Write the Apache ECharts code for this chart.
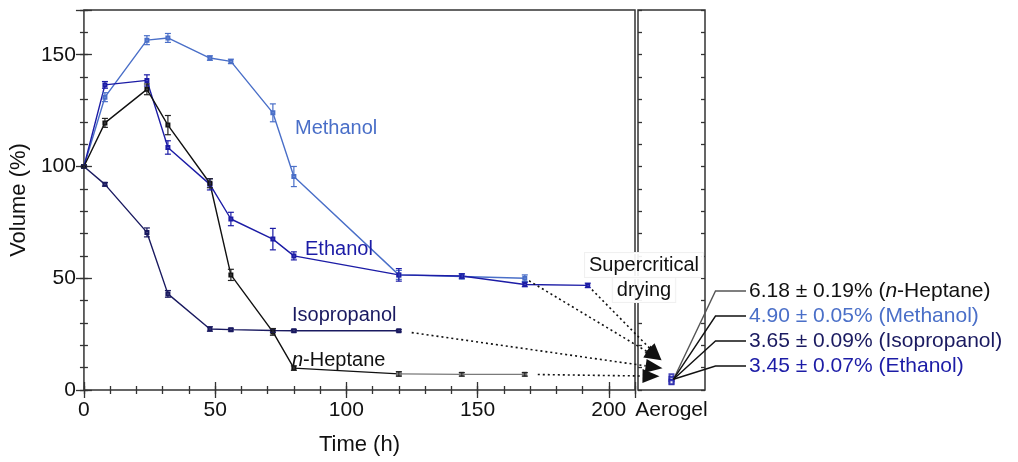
<!DOCTYPE html>
<html>
<head>
<meta charset="utf-8">
<script src="https://cdn.jsdelivr.net/npm/echarts@6/dist/echarts.min.js"></script>
<style>html,body{margin:0;padding:0;background:#fff;}#c{width:1018px;height:462px;}</style>
</head>
<body>
<div id="c"></div>
<script>
// ---- data ----
const times = [0, 8, 24, 32, 48, 56, 72, 80, 120, 144, 168, 192];
const methanol    = [100, 131, 156.5, 157.5, 148.5, 147, 124, 95.5, 51.5, 50.8, 50];
const methanolErr = [0.6, 2, 2, 2, 1, 1, 4, 4.5, 2, 1.2, 1.5];
const ethanol     = [100, 136.5, 138.5, 108.5, 92, 76.5, 67.5, 60, 51.5, 51, 47.2, 46.8];
const ethanolErr  = [0.6, 1.5, 2.5, 3, 2.5, 3, 4.8, 1.8, 2.8, 1, 1, 1];
const isopropanol    = [100, 92, 70.5, 43, 27.3, 27, 26.6, 26.5, 26.5];
const isopropanolErr = [0.6, 0.8, 2, 1.5, 1, 0.6, 0.8, 0.6, 0.5];
const heptane    = [100, 119.5, 134.5, 118.5, 92.5, 51.5, 26, 9.8, 7.2, 7, 7];
const heptaneErr = [0.6, 2, 2.4, 4.3, 2, 2.5, 1.5, 1, 1, 0.8, 0.8];
const aerogelCat = ['Aerogel'];
const aerogelVals = [6.18, 4.90, 3.65, 3.45];
const aerogelErr  = [0.19, 0.05, 0.09, 0.07];
const solventNames = ['n-Heptane', 'Methanol', 'Isopropanol', 'Ethanol'];

const FONT = 'Liberation Sans, Arial, sans-serif';
const C_MET = '#4a6fc8', C_ETH = '#1c1ca6', C_ISO = '#1a1a60', C_HEP = '#111111', C_HEP2 = '#7a7a7a';
const HEP_SPLIT = 8; // index where the n-Heptane trace turns grey

function pairs(vals, from, to) {
  const out = [];
  for (let i = from || 0; i < (to === undefined ? vals.length : to); i++) out.push([times[i], vals[i]]);
  return out;
}

function lineSeries(name, data, color) {
  return {
    name, type: 'line', xAxisIndex: 0, yAxisIndex: 0, data,
    symbol: 'emptyRect', symbolSize: 3, showSymbol: true,
    lineStyle: { color, width: 1.4 }, itemStyle: { color, borderWidth: 0.9 },
    z: 4, animation: false
  };
}
function errSeries(vals, errs, color) {
  return {
    type: 'custom', xAxisIndex: 0, yAxisIndex: 0,
    data: vals.map((v, i) => [times[i], v - errs[i], v + errs[i]]),
    encode: { x: 0, y: [1, 2] },
    renderItem: function (params, api) {
      const lo = api.coord([api.value(0), api.value(1)]);
      const hi = api.coord([api.value(0), api.value(2)]);
      const w = 3, st = { stroke: color, lineWidth: 1.2 };
      return { type: 'group', children: [
        { type: 'line', shape: { x1: lo[0], y1: lo[1], x2: hi[0], y2: hi[1] }, style: st },
        { type: 'line', shape: { x1: lo[0] - w, y1: lo[1], x2: lo[0] + w, y2: lo[1] }, style: st },
        { type: 'line', shape: { x1: hi[0] - w, y1: hi[1], x2: hi[0] + w, y2: hi[1] }, style: st }
      ]};
    },
    z: 5, animation: false
  };
}

const tickStyle = { color: '#333', width: 1.3 };
function valAxisX(pos, interval, len, labels) {
  return {
    type: 'value', gridIndex: 0, position: pos, min: 0, max: 210, interval,
    axisLine: { show: false },
    axisTick: { show: true, inside: true, length: len, lineStyle: tickStyle },
    splitLine: { show: false },
    axisLabel: labels ? { show: true, fontSize: 21, fontFamily: FONT, color: '#111', margin: 10,
      formatter: v => (v % 50 === 0 ? String(v) : '') } : { show: false },
    name: labels ? 'Time (h)' : '', nameLocation: 'middle', nameGap: 44,
    nameTextStyle: { fontSize: 22, fontFamily: FONT, color: '#111' }
  };
}
function valAxisY(grid, pos, interval, len, labels) {
  return {
    type: 'value', gridIndex: grid, position: pos, min: 0, max: 170, interval,
    axisLine: { show: false },
    axisTick: { show: true, inside: true, length: len, lineStyle: tickStyle },
    splitLine: { show: false },
    axisLabel: labels ? { show: true, fontSize: 21, fontFamily: FONT, color: '#111', margin: 8,
      formatter: v => (v % 50 === 0 ? String(v) : '') } : { show: false },
    name: labels ? 'Volume (%)' : '', nameLocation: 'middle', nameGap: 47,
    nameTextStyle: { fontSize: 22, fontFamily: FONT, color: '#111' }
  };
}

const option = {
  backgroundColor: '#fff',
  animation: false,
  grid: [
    { left: 80, top: 10, width: 555, height: 380, show: true, borderColor: '#333', borderWidth: 1.5, backgroundColor: 'transparent' },
    { left: 638, top: 10, width: 67, height: 380, show: true, borderColor: '#333', borderWidth: 1.5, backgroundColor: 'transparent' }
  ],
  xAxis: [
    valAxisX('bottom', 10, 4, true),
    valAxisX('bottom', 50, 8, false),
    valAxisX('top', 10, 4, false),
    valAxisX('top', 50, 8, false),
    { type: 'category', gridIndex: 1, position: 'bottom', data: aerogelCat,
      axisLine: { show: false }, axisTick: { show: false }, splitLine: { show: false },
      axisLabel: { fontSize: 21, fontFamily: FONT, color: '#111', margin: 10 } }
  ],
  yAxis: [
    valAxisY(0, 'left', 10, 4, true),
    valAxisY(0, 'left', 50, 8, false),
    valAxisY(0, 'right', 10, 4, false),
    valAxisY(0, 'right', 50, 8, false),
    valAxisY(1, 'left', 10, 4, false),
    valAxisY(1, 'right', 10, 4, false)
  ],
  series: [
    lineSeries('Methanol', pairs(methanol), C_MET),
    lineSeries('Ethanol', pairs(ethanol), C_ETH),
    lineSeries('Isopropanol', pairs(isopropanol), C_ISO),
    lineSeries('n-Heptane', pairs(heptane, 0, HEP_SPLIT + 1), C_HEP),
    lineSeries('n-Heptane (late)', pairs(heptane, HEP_SPLIT), C_HEP2),
    errSeries(methanol, methanolErr, C_MET),
    errSeries(ethanol, ethanolErr, C_ETH),
    errSeries(isopropanol, isopropanolErr, C_ISO),
    errSeries(heptane, heptaneErr, '#222'),
    {
      type: 'scatter', xAxisIndex: 4, yAxisIndex: 4,
      data: aerogelVals.map(v => [aerogelCat[0], v]),
      symbol: 'emptyRect', symbolSize: 4,
      itemStyle: { color: C_ETH, borderWidth: 1 }, z: 6
    }
  ]
};

const chart = echarts.init(document.getElementById('c'), null, { renderer: 'canvas' });
chart.setOption(option);

// ---- annotations positioned via the library's scales ----
const A = chart.convertToPixel({ xAxisIndex: 4, yAxisIndex: 4 }, [aerogelCat[0], (aerogelVals[0] + aerogelVals[3]) / 2]);
const g = [];
const dotStyle = { stroke: '#111', lineWidth: 1.6, lineDash: [2, 3] };
function px(vals) { return chart.convertToPixel({ xAxisIndex: 0, yAxisIndex: 0 }, [times[vals.length - 1], vals[vals.length - 1]]); }

function arrow(from, gap, tip) {
  const dx = tip[0] - from[0], dy = tip[1] - from[1];
  const L = Math.sqrt(dx * dx + dy * dy), ux = dx / L, uy = dy / L;
  const s = [from[0] + ux * gap, from[1] + uy * gap];
  const hl = 17, hw = 7;
  const b = [tip[0] - ux * hl, tip[1] - uy * hl];
  g.push({ type: 'line', shape: { x1: s[0], y1: s[1], x2: b[0], y2: b[1] }, style: dotStyle, z: 20 });
  g.push({ type: 'polygon', shape: { points: [tip, [b[0] - uy * hw, b[1] + ux * hw], [b[0] + uy * hw, b[1] - ux * hw]] },
    style: { fill: '#111' }, z: 20 });
}
if (A && isFinite(A[0])) {
  const tip1 = [A[0] - 10, A[1] - 19], tip2 = [A[0] - 9, A[1] - 11], tip3 = [A[0] - 12, A[1] - 3];
  arrow(px(methanol), 5, tip1);
  arrow(px(ethanol), 6, tip1);
  arrow(px(isopropanol), 13, tip2);
  arrow(px(heptane), 13, tip3);

  const labelColors = [C_HEP, C_MET, C_ISO, C_ETH];
  const labelY = [291, 316, 341, 366];
  aerogelVals.forEach((v, i) => {
    const y = labelY[i];
    const elbowX = A[0] + 44, endX = 746;
    g.push({ type: 'polyline', shape: { points: [[A[0] + 2, A[1]], [elbowX, y], [endX, y]] },
      style: { stroke: i === 0 ? '#555' : '#111', lineWidth: 1.4, fill: null }, z: 20 });
    const nm = solventNames[i] === 'n-Heptane' ? '{i|n}-Heptane' : solventNames[i];
    g.push({ type: 'text', x: 749, y, z: 30,
      style: { text: v.toFixed(2) + ' \u00b1 ' + aerogelErr[i].toFixed(2) + '% (' + nm + ')',
        fill: labelColors[i], font: '21px ' + FONT, textVerticalAlign: 'middle',
        rich: { i: { fontStyle: 'italic', fontSize: 21, fontFamily: FONT, fill: labelColors[i] } } } });
  });
}

// in-plot series labels
function txt(x, y, text, color) {
  g.push({ type: 'text', x, y, z: 30,
    style: { text, fill: color, font: '20px ' + FONT, textVerticalAlign: 'middle',
      rich: { i: { fontStyle: 'italic', fontSize: 20, fontFamily: FONT, fill: color } } } });
}
txt(295, 128, 'Methanol', C_MET);
txt(305, 249, 'Ethanol', C_ETH);
txt(292, 315, 'Isopropanol', C_ISO);
txt(292, 360, '{i|n}-Heptane', C_HEP);
function boxText(x, y, text) {
  g.push({ type: 'text', x, y, z: 25,
    style: { text, fill: '#111', font: '20px ' + FONT, textAlign: 'center', textVerticalAlign: 'middle',
      backgroundColor: 'rgba(255,255,255,0.92)', borderColor: '#f0f0f0', borderWidth: 1, padding: [2, 4, 2, 4] } });
}
boxText(644, 265, 'Supercritical');
boxText(644, 290, 'drying');

chart.setOption({ graphic: g });
</script>
</body>
</html>
